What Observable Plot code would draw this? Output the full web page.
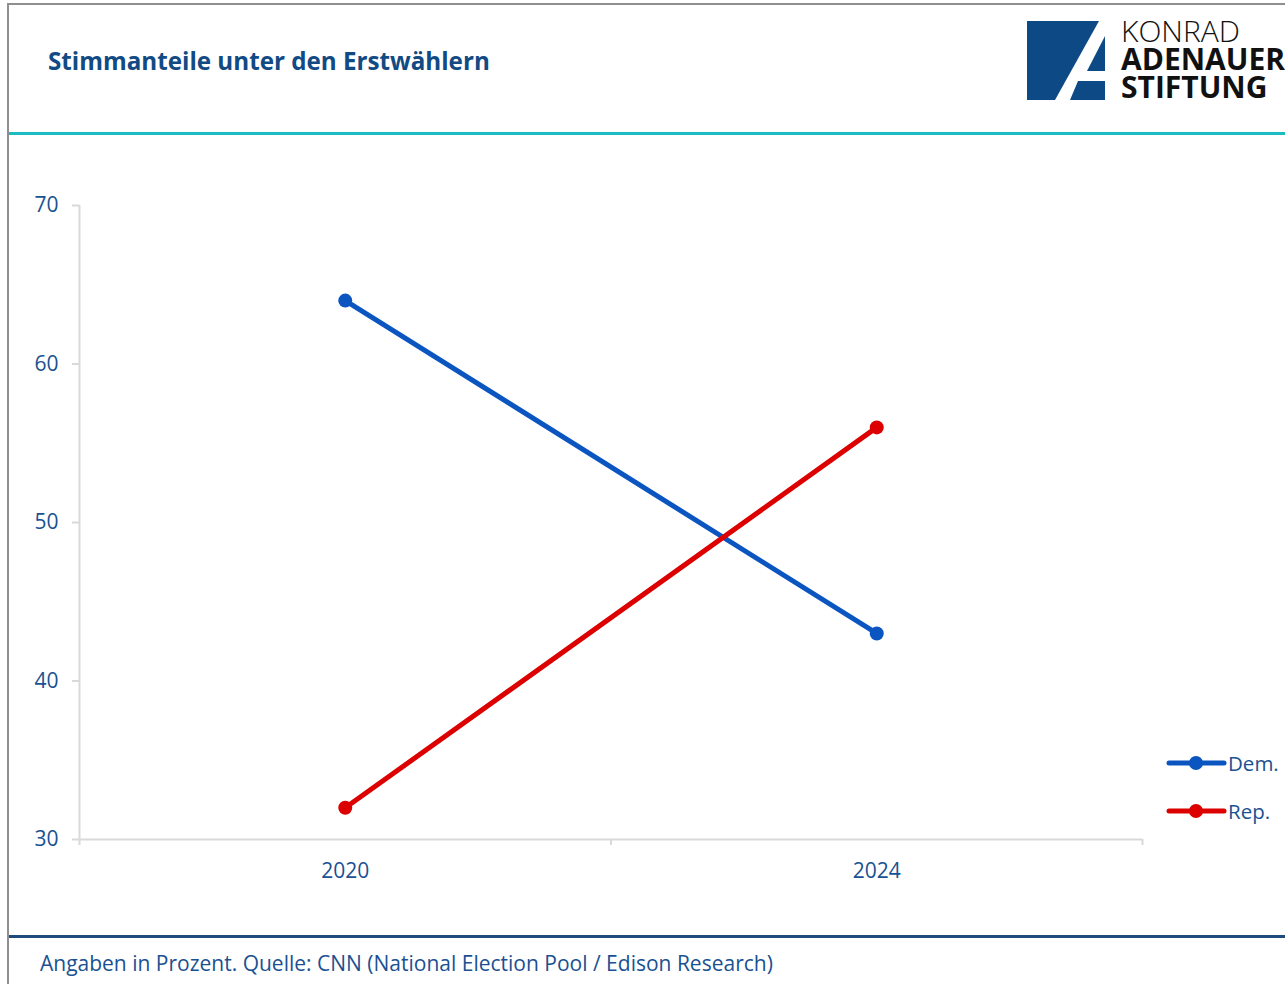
<!DOCTYPE html>
<html>
<head>
<meta charset="utf-8">
<script src="https://cdn.jsdelivr.net/npm/d3@7"></script>
<script src="https://cdn.jsdelivr.net/npm/@observablehq/plot@0.6"></script>
<style>
  html, body { margin: 0; padding: 0; background: #fff; }
  #page { position: relative; width: 1285px; height: 984px; overflow: hidden; font-family: "Open Sans", sans-serif; }
  .abs { position: absolute; }
  #title { left: 48px; top: 45px; font-size: 24.2px; line-height: 32px; font-weight: 700; color: #124a84; white-space: nowrap; }
  #footer { left: 40px; top: 949px; font-size: 21px; line-height: 28px; color: #1a5192; white-space: nowrap; }
  #logo-t { left: 1121px; top: 17px; font-size: 30px; color: #111; white-space: nowrap; line-height: 28px; }
  .leg { left: 1166px; font-size: 20.5px; color: #1a5192; display: flex; align-items: center; white-space: nowrap; }
</style>
</head>
<body>
<div id="page">
  <div class="abs" style="left:7px;top:3px;width:1278px;height:2px;background:#8f8f8f"></div>
  <div class="abs" style="left:7px;top:3px;width:2px;height:981px;background:#8f8f8f"></div>
  <div class="abs" style="left:9px;top:132px;width:1276px;height:3px;background:#1bbcc2"></div>
  <div class="abs" style="left:9px;top:935px;width:1276px;height:3px;background:#1f4a7c"></div>
  <div id="title" class="abs">Stimmanteile unter den Erstwählern</div>
  <svg class="abs" style="left:0;top:0" width="1285" height="110">
    <polygon points="1027,21 1099,21 1055,100 1027,100" fill="#0d4a85"/>
    <polygon points="1105,36 1105,71 1087,71" fill="#0d4a85"/>
    <polygon points="1078,81 1105,81 1105,100 1070,100" fill="#0d4a85"/>
  </svg>
  <div id="logo-t" class="abs"><span style="font-weight:300">KONRAD</span><br><b>ADENAUER</b><br><b>STIFTUNG</b></div>
  <div id="chart" class="abs" style="left:0;top:136px"></div>
  <div id="legend"></div>
  <div id="footer" class="abs">Angaben in Prozent. Quelle: CNN (National Election Pool / Edison Research)</div>
</div>
<script>
const years = [2020, 2024];
const dem = [64, 43];
const rep = [32, 56];
const seriesNames = ["Dem.", "Rep."];
const seriesColors = ["#0a55c0", "#dc0000"];
const yTicks = [30, 40, 50, 60, 70];
const xBounds = [2018, 2022, 2026];

const data = [
  ...years.map((y, i) => ({year: y, value: dem[i], s: seriesNames[0]})),
  ...years.map((y, i) => ({year: y, value: rep[i], s: seriesNames[1]}))
];

const axisColor = "#d9d9d9";
const labelColor = "#1a5192";

const chart = Plot.plot({
  width: 1285,
  height: 798,
  marginLeft: 79,
  marginRight: 143,
  marginTop: 69,
  marginBottom: 95,
  style: {fontFamily: "Open Sans, sans-serif", fontSize: "21px", background: "transparent", overflow: "visible"},
  x: {type: "linear", domain: [2018, 2026]},
  y: {domain: [30, 70]},
  color: {domain: seriesNames, range: seriesColors},
  marks: [
    Plot.ruleX([2018], {stroke: axisColor, strokeWidth: 2}),
    Plot.ruleY([30], {stroke: axisColor, strokeWidth: 2}),
    Plot.axisY({ticks: yTicks, tickSize: 7, tickPadding: 14, stroke: axisColor, strokeWidth: 2, color: labelColor, fill: labelColor, tickFormat: d => String(d), label: null}),
    Plot.axisX({ticks: xBounds, tickSize: 6, tickFormat: () => "", stroke: axisColor, strokeWidth: 2, label: null}),
    Plot.axisX({ticks: years, tickSize: 0, tickPadding: 24, tickFormat: d => String(d), fill: labelColor, label: null}),
    Plot.line(data, {x: "year", y: "value", z: "s", stroke: "s", strokeWidth: 5, strokeLinecap: "round"}),
    Plot.dot(data, {x: "year", y: "value", fill: "s", r: 7})
  ]
});
document.getElementById("chart").appendChild(chart);

const legend = document.getElementById("legend");
const legTops = [749, 797];
seriesNames.forEach((name, i) => {
  const div = document.createElement("div");
  div.className = "abs leg";
  div.style.top = legTops[i] + "px";
  div.innerHTML = `<svg width="61" height="24"><line x1="3" y1="12" x2="58" y2="12" stroke="${seriesColors[i]}" stroke-width="5" stroke-linecap="round"/><circle cx="30" cy="12" r="7" fill="${seriesColors[i]}"/></svg><span style="margin-left:1px">${name}</span>`;
  legend.appendChild(div);
});
</script>
</body>
</html>
